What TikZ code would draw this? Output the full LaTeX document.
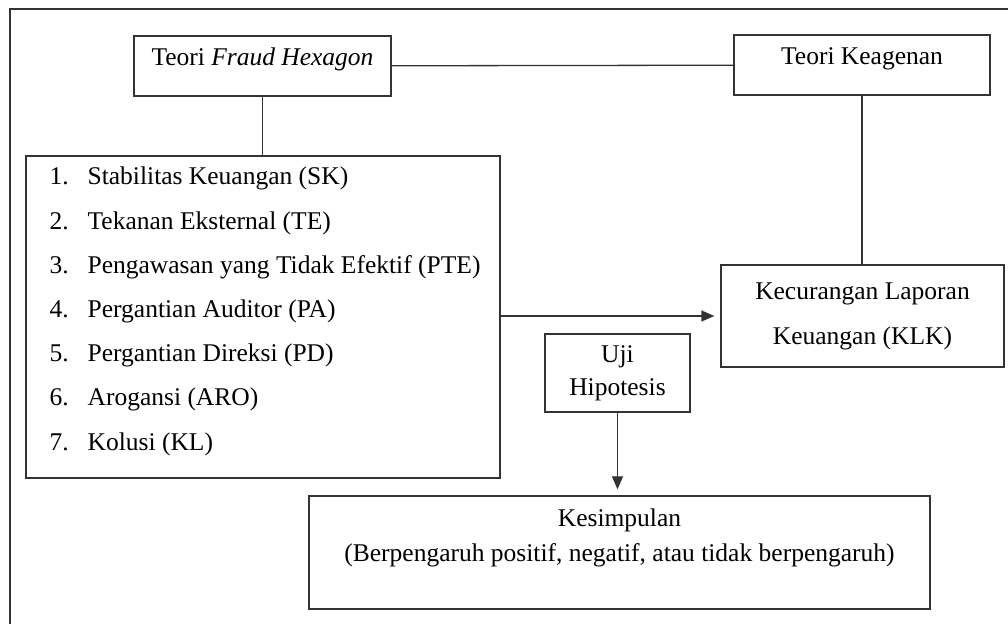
\documentclass[tikz,border=0pt]{standalone}
\usepackage{fontspec}
\setmainfont{Liberation Serif}
\usetikzlibrary{arrows.meta}

\begin{document}
\begin{tikzpicture}[x=0.5pt, y=-0.5pt, line width=0.65pt, draw=black!80,
        font=\fontsize{12.75}{16.5}\selectfont,
        box/.style={draw, rectangle, inner sep=0pt},
        entry/.style={anchor=base west, inner sep=0pt},
        point/.style={-{Triangle[length=6.5pt, width=5.5pt]}, shorten >=3pt}]
        % Fix the page size
        \useasboundingbox (0,0) rectangle (1008,624);

        % Outer frame (only top and left edges show)
        \draw (1008,9) -- (10,9) -- (10,624);

        % Theory boxes
        \node[box, minimum width=128.5pt, minimum height=30pt, text height=14.75pt, text depth=15.25pt] (hexagon) at (262.5,66) {Teori \textit{Fraud Hexagon}};
        \node[box, minimum width=128pt, minimum height=30pt, text height=14.75pt, text depth=15.25pt] (keagenan) at (862,65) {Teori Keagenan};

        % Variable list
        \node[box, minimum width=237pt, minimum height=161pt] (faktor) at (263,317) {};
        \foreach \txt [count=\i] in {Stabilitas Keuangan (SK), Tekanan Eksternal (TE),
                Pengawasan yang Tidak Efektif (PTE), Pergantian Auditor (PA),
                Pergantian Direksi (PD), Arogansi (ARO), Kolusi (KL)} {
                \node[entry] (item\i) at (49, {185+44.2*(\i-1)}) {\makebox[19pt][l]{\i.}\txt};
            }

        % Other boxes
        \node[box, minimum width=141.5pt, minimum height=51pt, align=center] (klk) at (862.5,316) {Kecurangan Laporan\\[6pt]Keuangan (KLK)};
        \node[box, minimum width=72.5pt, minimum height=39pt, align=center] (uji) at (617.5,373) {Uji\\Hipotesis};
        \node[box, minimum width=310.5pt, minimum height=56.5pt, align=center, text height=33pt, text depth=23.5pt] (kesimpulan) at (619.5,552.5) {Kesimpulan\\[1pt](Berpengaruh positif, negatif, atau tidak berpengaruh)};

        % Connectors
        \draw (hexagon) -- (keagenan);
        \draw (hexagon) -- (hexagon |- faktor.north);
        \draw (keagenan) -- (keagenan |- klk.north);
        \draw[point] (faktor.east |- klk) -- (klk);
        \draw[point] (uji) -- (uji |- kesimpulan.north);
    \end{tikzpicture}
\end{document}
